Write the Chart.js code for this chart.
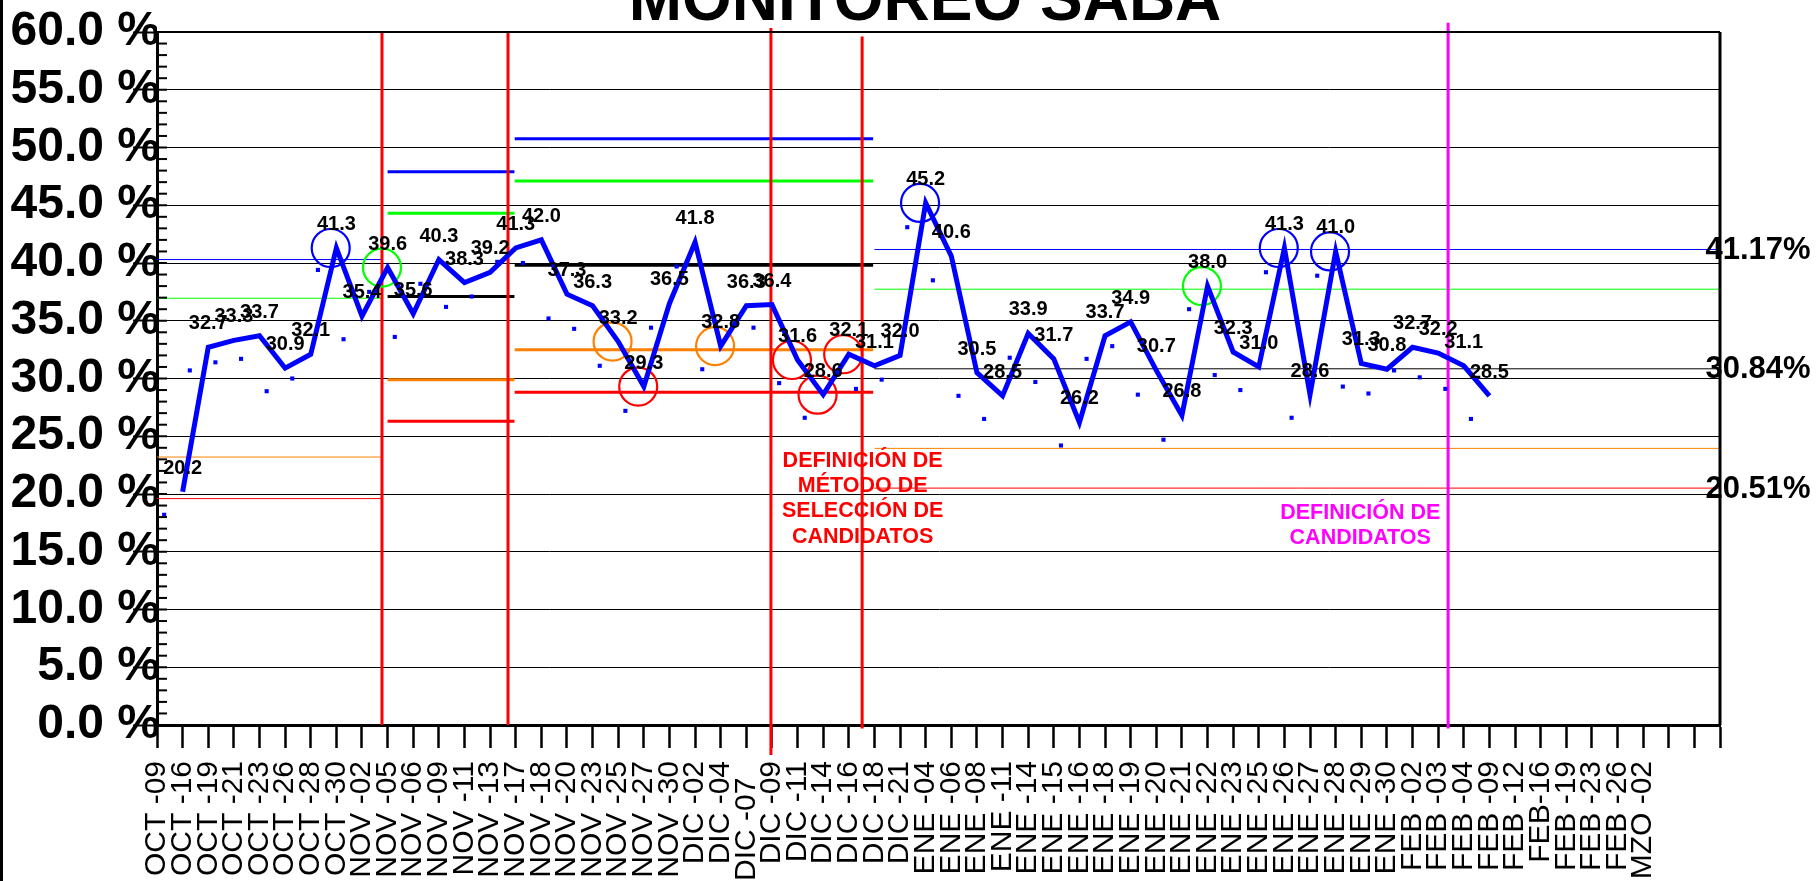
<!DOCTYPE html>
<html><head><meta charset="utf-8">
<style>
html,body{margin:0;padding:0;background:#fff;}
#wrap{position:relative;width:1820px;height:881px;overflow:hidden;background:#fff;}
canvas{display:block;}
</style>
<script src="https://cdn.jsdelivr.net/npm/chart.js@4.4.1/dist/chart.umd.min.js"></script>
</head><body><div id="wrap"><canvas id="c" width="1820" height="881"></canvas></div>
<script>
// ---------------- DATA ----------------
const chartTitle = 'MONITOREO SABA';
const categories = ['OCT -09','OCT -16','OCT -19','OCT -21','OCT -23','OCT -26','OCT -28','OCT -30',
 'NOV -02','NOV -05','NOV -06','NOV -09','NOV -11','NOV -13','NOV -17','NOV -18','NOV -20','NOV -23','NOV -25','NOV -27','NOV -30',
 'DIC -02','DIC -04','DIC -07  ','DIC -09','DIC -11','DIC -14','DIC -16','DIC -18','DIC -21',
 'ENE -04','ENE -06','ENE -08','ENE -11','ENE -14','ENE -15','ENE -16','ENE -18','ENE -19','ENE -20','ENE -21','ENE -22','ENE -23','ENE -25','ENE -26','ENE -27','ENE -28','ENE -29','ENE -30',
 'FEB -02','FEB -03','FEB -04','FEB -09','FEB -12','FEB-16','FEB -19','FEB -23','FEB -26','MZO -02'];
const emptySlots = 3;            // unlabeled category slots after the last label

const yTicks = [0,5,10,15,20,25,30,35,40,45,50,55,60];

// main series (starts at category index 1)
const lineStart = 1;
const lineValues = [20.2,32.7,33.3,33.7,30.9,32.1,41.3,35.4,39.6,35.6,40.3,38.3,39.2,41.3,42.0,37.3,36.3,33.2,29.3,36.5,
 41.8,32.8,36.3,36.4,31.6,28.6,32.1,31.1,32.0,45.2,40.6,30.5,28.5,33.9,31.7,26.2,33.7,34.9,30.7,26.8,
 38.0,32.3,31.0,41.3,28.6,41.0,31.3,30.8,32.7,32.2,31.1,28.5];

// secondary small-square series (starts at category index 0)
const dotStart = 0;
const dotValues = [18.2,30.7,31.4,31.7,28.9,30.0,39.4,33.4,37.5,33.6,38.2,36.2,37.1,40.1,40.0,35.2,34.3,31.1,27.2,34.4,
 39.7,30.8,null,34.4,29.6,26.6,null,29.1,29.9,43.1,38.5,28.5,26.5,31.8,29.7,24.2,31.7,32.8,28.6,24.7,
 36.0,30.3,29.0,39.2,26.6,38.9,29.3,28.7,30.7,30.1,29.1,26.5];

// flagged points (category indices of the main series)
const flagHigh3 = [7, 30, 44, 46];     // blue circles
const flagHigh2 = [9, 41];             // green circles
const flagLow2  = [18, 22];            // orange circles
const flagLow3  = [19, 25, 26, 27];    // red circles

// control-limit phases (category units)
const phaseStart = [0, 9, 13.96, 28];
const phaseEnd   = [8.78, 13.95, 27.95, 61];
const ucl3   = [40.3, 47.9, 50.75, 41.17];
const ucl2   = [36.95, 44.3, 47.1, 37.73];
const center = [30.0, 37.1, 39.8, 30.84];
const lcl2   = [23.2, 29.9, 32.5, 23.95];
const lcl3   = [19.6, 26.3, 28.8, 20.51];
const endLabelPhase = 3;               // phase whose limits get a value label at the right

// vertical phase markers
const markerAt   = [8.78, 13.70, 23.96, 27.52, 50.39];
const markerLow  = [0, 0, -2.6, -0.3, -0.3];
const markerHigh = [60, 60, 60.35, 59.6, 60.8];

// text notes
const noteRed = ['DEFINICIÓN DE','MÉTODO DE','SELECCIÓN DE','CANDIDATOS'];
const noteMagenta = ['DEFINICIÓN DE','CANDIDATOS'];
const noteRedAt = [27.54, 22.87];
const noteMagentaAt = [46.96, 18.34];

// ---------------- STYLE ----------------
const FONT = "'Liberation Sans', Arial, sans-serif";
const BLUE = '#0000ff', GREEN = '#00ff00', ORANGE = '#ff8000', RED = '#ff0000', MAGENTA = '#ff00ff';
const phaseLineWidth = [1, 3, 3, 1];
const markerColor = [RED, RED, RED, RED, MAGENTA];
const circleOffset = -0.22;
const dotOffset = 0.28;

// ---------------- DATASETS ----------------
const datasets = [];
datasets.push({
  label: 'main', order: 0,
  data: lineValues.map((v, i) => ({x: lineStart + i, y: v})),
  borderColor: BLUE, borderWidth: 5, pointRadius: 0, tension: 0,
  borderJoinStyle: 'miter', valueLabels: true, fill: false
});
function circleSet(idx, color) {
  return {
    label: 'flag', order: 1, showLine: false,
    data: idx.map(k => ({x: k + circleOffset, y: lineValues[k - lineStart]})),
    pointRadius: 19, pointBorderWidth: 2.2, pointBorderColor: color,
    pointBackgroundColor: 'rgba(0,0,0,0)', borderColor: color
  };
}
datasets.push(circleSet(flagHigh3, BLUE), circleSet(flagHigh2, GREEN), circleSet(flagLow2, ORANGE), circleSet(flagLow3, RED));
datasets.push({
  label: 'dots', order: 2, showLine: false,
  data: dotValues.map((v, i) => ({x: dotStart + i + dotOffset, y: v})),
  pointStyle: 'rect', pointRadius: 2.9, pointBorderWidth: 0,
  pointBackgroundColor: BLUE, borderColor: BLUE
});
markerAt.forEach((x, i) => {
  datasets.push({
    label: 'marker', order: 3, clip: false,
    data: [{x: x, y: markerLow[i]}, {x: x, y: markerHigh[i]}],
    borderColor: markerColor[i], borderWidth: 3, pointRadius: 0
  });
});
const limitSets = [[ucl3, BLUE], [ucl2, GREEN], [center, '#000000'], [lcl2, ORANGE], [lcl3, RED]];
phaseStart.forEach((s, p) => {
  limitSets.forEach(([arr, color]) => {
    datasets.push({
      label: 'limit', order: 4, clip: false,
      data: [{x: s, y: arr[p]}, {x: phaseEnd[p], y: arr[p]}],
      borderColor: color, borderWidth: phaseLineWidth[p], pointRadius: 0,
      endLabel: p === endLabelPhase && color !== ORANGE && color !== GREEN
    });
  });
});

// ---------------- PLUGINS ----------------
const decor = {
  id: 'decor',
  afterDatasetsDraw(chart) {
    const ctx = chart.ctx;
    const xs = chart.scales.x, ys = chart.scales.y;
    const ca = chart.chartArea;
    ctx.save();
    // frame
    ctx.strokeStyle = '#000';
    ctx.lineWidth = 3;
    ctx.beginPath(); ctx.moveTo(ca.right, ca.top); ctx.lineTo(ca.right, ca.bottom); ctx.stroke();
    ctx.lineWidth = 2;
    ctx.beginPath(); ctx.moveTo(ca.left, ca.top); ctx.lineTo(ca.right, ca.top); ctx.stroke();
    ctx.lineWidth = 3;
    ctx.beginPath(); ctx.moveTo(1.5, 0); ctx.lineTo(1.5, chart.height); ctx.stroke();
    // minor ticks
    ctx.lineWidth = 2;
    for (let v = ys.min; v <= ys.max; v += 1) {
      const py = ys.getPixelForValue(v);
      ctx.beginPath(); ctx.moveTo(ca.left, py); ctx.lineTo(ca.left + 10, py); ctx.stroke();
    }
    // value labels
    chart.data.datasets.forEach((ds, di) => {
      const meta = chart.getDatasetMeta(di);
      if (ds.valueLabels) {
        ctx.fillStyle = '#000';
        ctx.font = 'bold 20px ' + FONT;
        ctx.textAlign = 'center'; ctx.textBaseline = 'alphabetic';
        meta.data.forEach((pt, i) => {
          const v = ds.data[i].y;
          if (v == null) return;
          ctx.fillText(v.toFixed(1), pt.x, pt.y - 18);
        });
      }
      if (ds.endLabel) {
        const pt = meta.data[meta.data.length - 1];
        ctx.fillStyle = '#000';
        ctx.font = 'bold 31px ' + FONT;
        ctx.textAlign = 'center'; ctx.textBaseline = 'middle';
        ctx.fillText(ds.data[1].y.toFixed(2) + '%', pt.x + 38, pt.y + 1);
      }
    });
    // notes
    function note(lines, at, color) {
      ctx.fillStyle = color;
      ctx.font = 'bold 21.5px ' + FONT;
      ctx.textAlign = 'center'; ctx.textBaseline = 'middle';
      const x = xs.getPixelForValue(at[0]);
      const y0 = ys.getPixelForValue(at[1]);
      lines.forEach((t, i) => ctx.fillText(t, x, y0 + i * 25.3));
    }
    note(noteRed, noteRedAt, RED);
    note(noteMagenta, noteMagentaAt, MAGENTA);
    // title
    ctx.fillStyle = '#000';
    ctx.font = 'bold 64px ' + FONT;
    ctx.textAlign = 'center'; ctx.textBaseline = 'alphabetic';
    ctx.fillText(chartTitle, 925, 19.5);
    ctx.restore();
  }
};

new Chart(document.getElementById('c'), {
  type: 'line',
  data: {datasets},
  plugins: [decor],
  options: {
    responsive: false, animation: false, devicePixelRatio: 1, events: [],
    layout: {padding: {top: 32, right: 100, bottom: 0, left: 0}, autoPadding: false},
    plugins: {legend: {display: false}, tooltip: {enabled: false}, title: {display: false}},
    scales: {
      x: {
        type: 'linear', position: 'bottom',
        min: 0, max: categories.length - 1 + emptySlots,
        afterFit(s) { s.height = 156; },
        border: {display: true, color: '#000', width: 3},
        grid: {drawOnChartArea: false, drawTicks: true, tickLength: 23, tickWidth: 2.5, tickColor: '#000'},
        ticks: {stepSize: 1, autoSkip: false, maxTicksLimit: 500, maxRotation: 90, minRotation: 90, padding: 13,
          color: '#000', font: {family: FONT, size: 30},
          callback: (v) => (categories[v] !== undefined ? categories[v] : '')}
      },
      y: {
        type: 'linear', position: 'left',
        min: yTicks[0], max: yTicks[yTicks.length - 1],
        afterFit(s) { s.width = 157; },
        afterBuildTicks(s) { s.ticks = yTicks.map(v => ({value: v})); },
        border: {display: true, color: '#000', width: 3},
        grid: {color: '#000', lineWidth: 1, drawTicks: true, tickLength: 24, tickWidth: 2, tickColor: '#000'},
        ticks: {autoSkip: false, padding: -27, color: '#000', font: {family: FONT, size: 48, weight: 'bold'},
          callback: (v) => Number(v).toFixed(1) + ' %'}
      }
    }
  }
});
</script>
</body></html>
